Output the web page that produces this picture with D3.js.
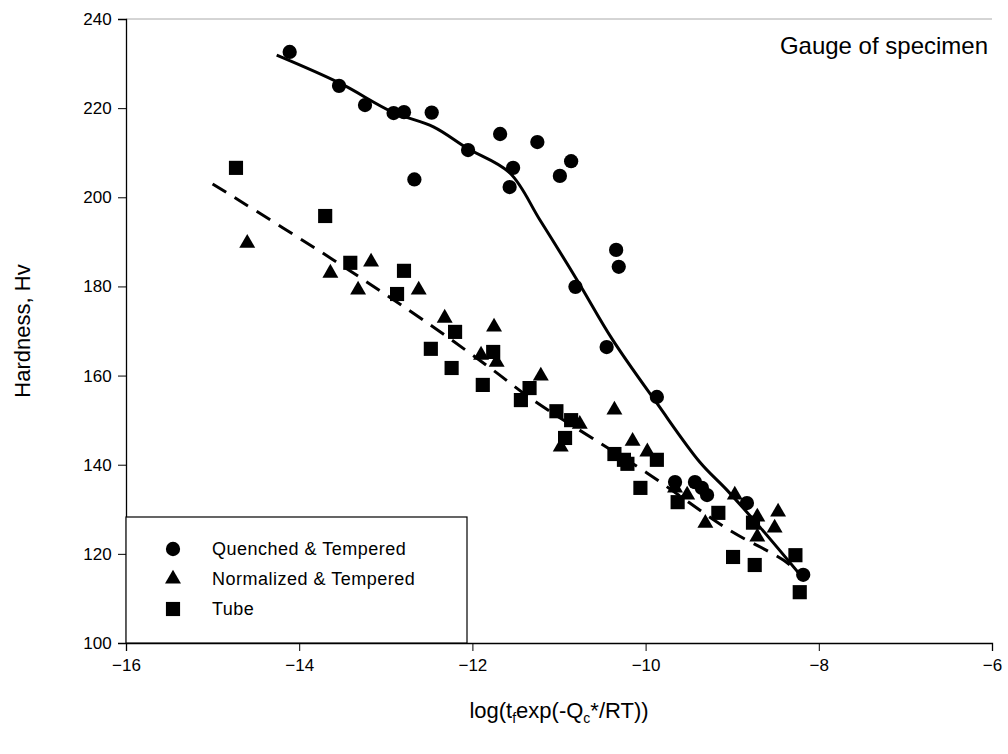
<!DOCTYPE html>
<html><head><meta charset="utf-8">
<script src="https://cdn.jsdelivr.net/npm/d3@7"></script>
<style>body{margin:0;background:#fff}svg{font-family:"Liberation Sans",Arial,sans-serif}</style>
</head><body><svg id="c" width="1008" height="754"></svg>
<script>
// data
const qtX = [-14.11,-13.54,-13.24,-12.91,-12.79,-12.47,-12.67,-12.05,-11.68,-11.53,-11.57,-11.25,-10.99,-10.86,-10.81,-10.34,-10.31,-10.45,-9.87,-9.66,-9.43,-9.35,-9.29,-8.83,-8.18];
const qtY = [232.6,225,220.7,218.9,219.1,219,204,210.6,214.2,206.6,202.3,212.4,204.8,208.1,179.9,188.2,184.4,166.4,155.2,136.1,136.1,134.8,133.2,131.4,115.3];
const ntX = [-14.60,-13.64,-13.32,-13.17,-12.62,-12.32,-11.90,-11.75,-11.72,-11.21,-10.76,-10.98,-10.36,-10.15,-9.98,-9.66,-9.52,-9.31,-8.97,-8.71,-8.47,-8.51,-8.71];
const ntY = [189.7,183,179.2,185.5,179.2,172.9,164.6,170.9,163,159.9,149.1,144,152.3,145.3,142.9,134.8,133.2,126.9,133.2,128.3,129.4,125.8,123.8];
const tbX = [-14.73,-13.70,-13.41,-12.79,-12.87,-12.48,-12.20,-12.24,-11.88,-11.76,-11.44,-11.34,-11.03,-10.93,-10.86,-10.36,-10.25,-10.21,-9.87,-10.06,-9.63,-9.16,-8.76,-8.99,-8.74,-8.27,-8.22];
const tbY = [206.6,195.8,185.3,183.5,178.3,166,169.8,161.7,157.9,165.3,154.5,157.2,152,146,150,142.4,141.1,140.2,141.1,134.8,131.6,129.2,127,119.3,117.5,119.7,111.4];
const fitQtX = [-14.26,-13.53,-12.92,-12.45,-12.06,-11.57,-11.22,-10.79,-10.38,-9.87,-9.37,-9.06,-8.68,-8.16];
const fitQtY = [231.9,225.6,219.1,215.8,211,205.5,194.9,181.4,168,153.8,140.5,134.3,126,114];
const fitNtX = [-15.0,-13.61,-12.46,-11.76,-11.30,-10.53,-9.98,-9.03,-8.41,-8.16];
const fitNtY = [203,186,171,161.2,154.5,144.9,138.1,125.3,118.6,114.6];
const xTicks = [-16,-14,-12,-10,-8,-6];
const yTicks = [100,120,140,160,180,200,220,240];
const legendNames = ["Quenched & Tempered","Normalized & Tempered","Tube"];

const svg = d3.select("#c");
const x = d3.scaleLinear().domain([-16,-6]).range([126,992]);
const y = d3.scaleLinear().domain([100,240]).range([643,19]);

svg.append("line").attr("x1",126).attr("x2",992).attr("y1",19).attr("y2",19).attr("stroke","#aaa");
svg.append("g").attr("transform","translate(0,643)")
  .call(d3.axisBottom(x).tickValues(xTicks).tickSize(8).tickFormat(d3.format("d")))
  .call(g=>g.selectAll("text").attr("font-size",17).attr("fill","#000").attr("dy","1em"))
  .call(g=>g.select(".domain").attr("stroke-width",1.3));
svg.append("g").attr("transform","translate(126,0)")
  .call(d3.axisLeft(y).tickValues(yTicks).tickSize(8))
  .call(g=>g.selectAll("text").attr("font-size",17).attr("fill","#000").attr("dx","-0.2em"))
  .call(g=>g.select(".domain").attr("stroke-width",1.3));

const line = d3.line().x(d=>x(d[0])).y(d=>y(d[1])).curve(d3.curveCatmullRom);
svg.append("path").attr("d",line(d3.zip(fitQtX,fitQtY))).attr("fill","none").attr("stroke","#000").attr("stroke-width",3);
svg.append("path").attr("d",line(d3.zip(fitNtX,fitNtY))).attr("fill","none").attr("stroke","#000").attr("stroke-width",3).attr("stroke-dasharray","16,10");

const tri = d3.symbol().type(d3.symbolTriangle).size(110);
const sq = d3.symbol().type(d3.symbolSquare).size(200);
const ci = d3.symbol().type(d3.symbolCircle).size(160);
svg.append("g").selectAll("path").data(d3.zip(qtX,qtY)).join("path").attr("d",ci).attr("transform",d=>`translate(${x(d[0])},${y(d[1])})`);
svg.append("g").selectAll("path").data(d3.zip(ntX,ntY)).join("path").attr("d",tri).attr("transform",d=>`translate(${x(d[0])},${y(d[1])})`);
svg.append("g").selectAll("path").data(d3.zip(tbX,tbY)).join("path").attr("d",sq).attr("transform",d=>`translate(${x(d[0])},${y(d[1])})`);

// legend
const lg = svg.append("g");
lg.append("rect").attr("x",126).attr("y",517).attr("width",341).attr("height",126).attr("fill","#fff").attr("stroke","#000").attr("stroke-width",1.2);
[ci,tri,sq].forEach((s,i)=>{
  lg.append("path").attr("d",s).attr("transform",`translate(173,${549+i*30})`);
  lg.append("text").attr("x",212).attr("y",555+i*30).attr("font-size",18).attr("letter-spacing",0.5).text(legendNames[i]);
});

svg.append("text").attr("x",988).attr("y",54).attr("text-anchor","end").attr("font-size",24).text("Gauge of specimen");
svg.append("text").attr("transform","translate(30,331) rotate(-90)").attr("text-anchor","middle").attr("font-size",22).text("Hardness, Hv");
const xl = svg.append("text").attr("x",559).attr("y",718).attr("text-anchor","middle").attr("font-size",22);
xl.append("tspan").text("log(t");
xl.append("tspan").attr("font-size",14).attr("dy",5).text("f");
xl.append("tspan").attr("dy",-5).text("exp(-Q");
xl.append("tspan").attr("font-size",14).attr("dy",5).text("c");
xl.append("tspan").attr("dy",-5).text("*/RT))");
</script></body></html>
